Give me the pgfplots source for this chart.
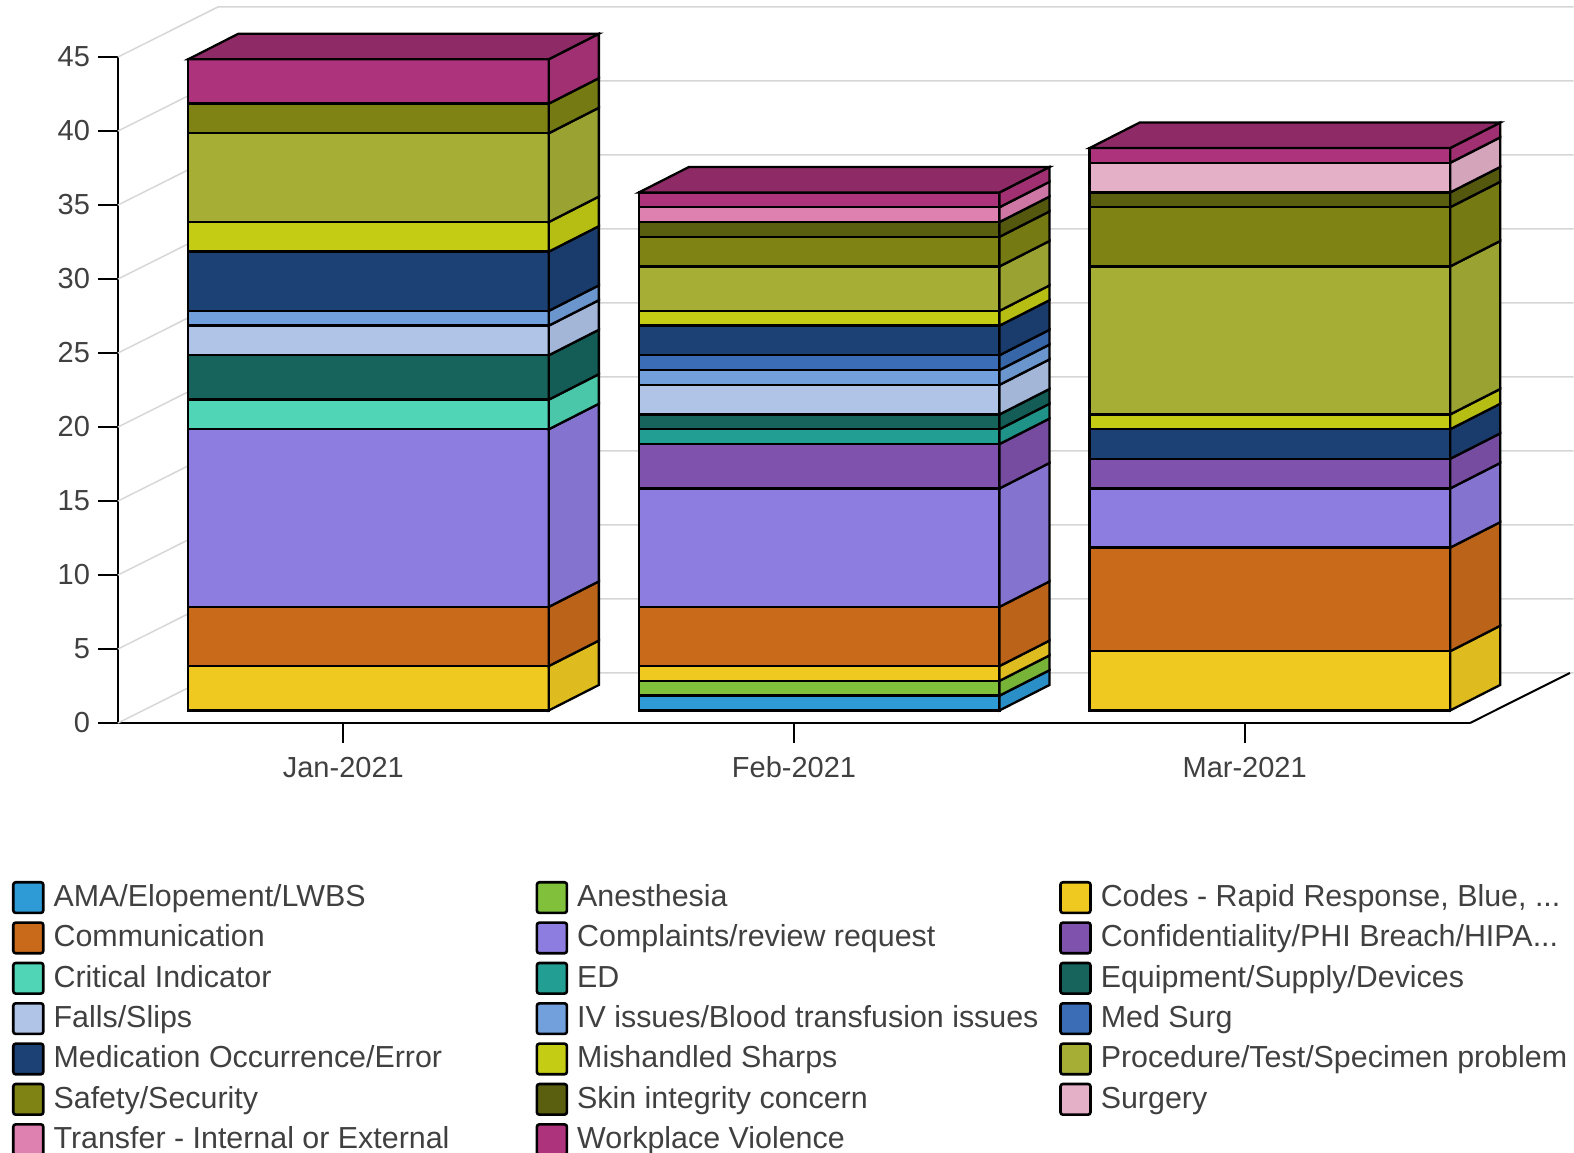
\documentclass[border=0pt]{standalone}
\usepackage{pgfplots}
\pgfplotsset{compat=1.18}
\usepackage{fontspec}
\setmainfont{Liberation Sans}

\definecolor{AMA}{HTML}{2E9AD6}
\definecolor{Anesthesia}{HTML}{80C03A}
\definecolor{Codes}{HTML}{EFC920}
\definecolor{Communication}{HTML}{C96A1B}
\definecolor{Complaints}{HTML}{8E7DE0}
\definecolor{Confidentiality}{HTML}{7F52AD}
\definecolor{Critical}{HTML}{50D6B6}
\definecolor{ED}{HTML}{229E92}
\definecolor{Equipment}{HTML}{16645C}
\definecolor{Falls}{HTML}{B0C4E8}
\definecolor{IV}{HTML}{72A0DC}
\definecolor{MedSurg}{HTML}{3A6DB5}
\definecolor{Medication}{HTML}{1C4174}
\definecolor{Mishandled}{HTML}{C4CC14}
\definecolor{Procedure}{HTML}{A6AE36}
\definecolor{Safety}{HTML}{7F8314}
\definecolor{Skin}{HTML}{5A5F10}
\definecolor{Surgery}{HTML}{E4B0C8}
\definecolor{Transfer}{HTML}{DE80B0}
\definecolor{Workplace}{HTML}{AD347C}
\definecolor{txt}{HTML}{404040}
\definecolor{wall}{HTML}{D6D6D6}

% depth of the bars and of the back wall, in axis units
\def\bdx{0.111}\def\bdy{1.72}
\def\wdx{0.2216}\def\wdy{3.38}
\def\yo{0.85}\def\xo{0.056}\def\hw{0.4}

\newcommand\startbar[1]{\xdef\cat{#1}\xdef\cum{0}}
\newcommand\seg[2]{%
  \pgfmathsetmacro\xl{\cat+\xo-\hw}\pgfmathsetmacro\xr{\cat+\xo+\hw}%
  \pgfmathsetmacro\xb{\xr+\bdx}%
  \pgfmathsetmacro\yb{\cum+\yo}\pgfmathsetmacro\yt{\cum+#2+\yo}%
  \pgfmathsetmacro\ybb{\yb+\bdy}\pgfmathsetmacro\ytb{\yt+\bdy}%
  \edef\tmp{%
    \noexpand\addplot[forget plot,draw=black,line width=1.15pt,fill=#1]
      coordinates {(\xl,\yb)(\xr,\yb)(\xr,\yt)(\xl,\yt)} -- cycle;
    \noexpand\addplot[forget plot,draw=black,line width=1.15pt,fill=#1!93!black]
      coordinates {(\xr,\yb)(\xb,\ybb)(\xb,\ytb)(\xr,\yt)} -- cycle;
  }\tmp
  \pgfmathsetmacro\newcum{\cum+#2}\xdef\cum{\newcum}%
}
\newcommand\capbar[1]{%
  \pgfmathsetmacro\xl{\cat+\xo-\hw}\pgfmathsetmacro\xr{\cat+\xo+\hw}%
  \pgfmathsetmacro\xa{\xl+\bdx}\pgfmathsetmacro\xb{\xr+\bdx}%
  \pgfmathsetmacro\yt{\cum+\yo}\pgfmathsetmacro\ytb{\yt+\bdy}%
  \edef\tmp{%
    \noexpand\addplot[forget plot,draw=black,line width=1.15pt,fill=#1!82!black]
      coordinates {(\xl,\yt)(\xr,\yt)(\xb,\ytb)(\xa,\ytb)} -- cycle;
  }\tmp
}
\newcommand\wall[1]{%
  \pgfmathsetmacro\wy{#1+\wdy}\pgfmathsetmacro\wx{-0.5+\wdx}%
  \edef\tmp{%
    \noexpand\addplot[forget plot,draw=wall,line width=0.75pt]
      coordinates {(-0.5,#1)(\wx,\wy)(2.73,\wy)};
  }\tmp
}
\pgfplotsset{swatch/.style={legend image code/.code={%
  \draw[##1,draw=black,line width=1.3pt,rounded corners=1.2pt] (0.6pt,-3.4pt) rectangle (15.6pt,11.9pt);}}}
\newcommand\entry[2]{%
  \addlegendimage{swatch,fill=#1}
  \addlegendentry{\makebox[241pt][l]{\rule[-6pt]{0pt}{19.75pt}\raisebox{6pt}[0pt][0pt]{#2}}}
}

\begin{document}
\begin{tikzpicture}
\path[use as bounding box,clip] (-59pt,-214.5pt) rectangle (728pt,361.5pt);
\begin{axis}[
    at={(0,0)},anchor=south west,
    scale only axis,width=676pt,height=333pt,
    xmin=-0.5,xmax=2.5,ymin=0,ymax=45,
    clip=false,
    axis lines=left,
    axis line style={-,line width=1pt,black},
    xtick={0,1,2},xticklabels={Jan-2021,Feb-2021,Mar-2021},
    ytick={0,5,...,45},
    tick align=outside,
    major tick length=10pt,
    tick style={black,line width=1pt},
    /pgf/number format/assume math mode=true,
    ticklabel style={font=\fontsize{14.5}{17}\selectfont,text=txt},
    xticklabel style={yshift=-3pt,text height=10.5pt,text depth=0pt},
    yticklabel style={xshift=-0.5pt},
    legend columns=3,
    legend cell align=left,
    legend style={
      at={(-0.0784,-0.2372)},anchor=north west,
      draw=none,fill=none,inner sep=0pt,outer sep=0pt,
      row sep=0pt,
      font=\fontsize{15.2}{18}\selectfont,
      text=txt,
      nodes={inner sep=0pt,outer sep=0pt},
      /tikz/every odd column/.append style={column sep=4.5pt},
      /tikz/every even column/.append style={column sep=0pt},
    },
  ]
  % back wall and floor edge
  \wall{0}\wall{5}\wall{10}\wall{15}\wall{20}
  \wall{25}\wall{30}\wall{35}\wall{40}\wall{45}
  \addplot[forget plot,draw=black,line width=1pt] coordinates {(2.5,0)(2.7216,3.38)};

  % Jan-2021
  \startbar{0}
  \seg{Codes}{3}\seg{Communication}{4}\seg{Complaints}{12}\seg{Critical}{2}
  \seg{Equipment}{3}\seg{Falls}{2}\seg{IV}{1}\seg{Medication}{4}
  \seg{Mishandled}{2}\seg{Procedure}{6}\seg{Safety}{2}\seg{Workplace}{3}
  \capbar{Workplace}

  % Feb-2021
  \startbar{1}
  \seg{AMA}{1}\seg{Anesthesia}{1}\seg{Codes}{1}\seg{Communication}{4}
  \seg{Complaints}{8}\seg{Confidentiality}{3}\seg{ED}{1}\seg{Equipment}{1}
  \seg{Falls}{2}\seg{IV}{1}\seg{MedSurg}{1}\seg{Medication}{2}
  \seg{Mishandled}{1}\seg{Procedure}{3}\seg{Safety}{2}\seg{Skin}{1}
  \seg{Transfer}{1}\seg{Workplace}{1}
  \capbar{Workplace}

  % Mar-2021
  \startbar{2}
  \seg{Codes}{4}\seg{Communication}{7}\seg{Complaints}{4}\seg{Confidentiality}{2}
  \seg{Medication}{2}\seg{Mishandled}{1}\seg{Procedure}{10}\seg{Safety}{4}
  \seg{Skin}{1}\seg{Surgery}{2}\seg{Workplace}{1}
  \capbar{Workplace}

  \entry{AMA}{AMA/Elopement/LWBS}
  \entry{Anesthesia}{Anesthesia}
  \entry{Codes}{Codes - Rapid Response, Blue, ...}
  \entry{Communication}{Communication}
  \entry{Complaints}{Complaints/review request}
  \entry{Confidentiality}{Confidentiality/PHI Breach/HIPA...}
  \entry{Critical}{Critical Indicator}
  \entry{ED}{ED}
  \entry{Equipment}{Equipment/Supply/Devices}
  \entry{Falls}{Falls/Slips}
  \entry{IV}{IV issues/Blood transfusion issues}
  \entry{MedSurg}{Med Surg}
  \entry{Medication}{Medication Occurrence/Error}
  \entry{Mishandled}{Mishandled Sharps}
  \entry{Procedure}{Procedure/Test/Specimen problem}
  \entry{Safety}{Safety/Security}
  \entry{Skin}{Skin integrity concern}
  \entry{Surgery}{Surgery}
  \entry{Transfer}{Transfer - Internal or External}
  \entry{Workplace}{Workplace Violence}
\end{axis}
\end{tikzpicture}
\end{document}
